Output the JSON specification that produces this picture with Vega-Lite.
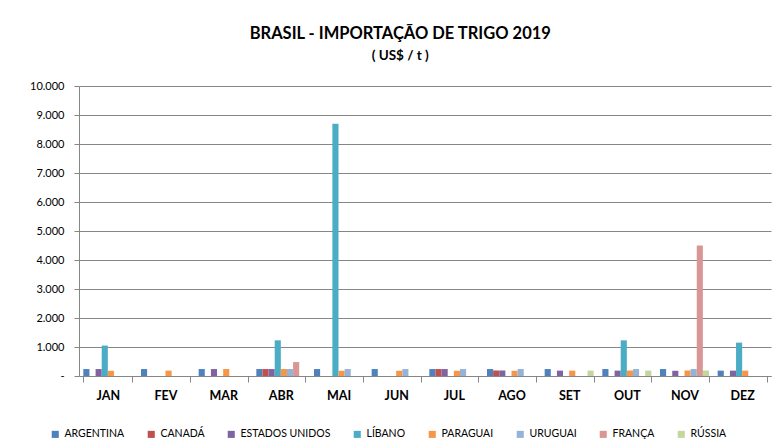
{
  "$schema": "https://vega.github.io/schema/vega-lite/v6.json",
  "autosize": "none",
  "width": 692,
  "height": 290,
  "padding": {"left": 79, "top": 86, "right": 11, "bottom": 70},
  "background": "white",
  "title": {
    "text": "BRASIL - IMPORTAÇÃO DE TRIGO 2019",
    "subtitle": "( US$ / t )",
    "font": "Lato",
    "fontSize": 16.5,
    "fontWeight": "bold",
    "subtitleFont": "Lato",
    "subtitleFontSize": 13.5,
    "subtitleFontWeight": "bold",
    "subtitleColor": "black",
    "subtitlePadding": 6,
    "color": "black",
    "anchor": "middle",
    "frame": "bounds",
    "offset": 18
  },
  "data": {
    "values": [
      {"mes": "JAN", "pais": "ARGENTINA", "valor": 240},
      {"mes": "JAN", "pais": "ESTADOS UNIDOS", "valor": 240},
      {"mes": "JAN", "pais": "LÍBANO", "valor": 1050},
      {"mes": "JAN", "pais": "PARAGUAI", "valor": 180},
      {"mes": "FEV", "pais": "ARGENTINA", "valor": 240},
      {"mes": "FEV", "pais": "PARAGUAI", "valor": 185},
      {"mes": "MAR", "pais": "ARGENTINA", "valor": 240},
      {"mes": "MAR", "pais": "ESTADOS UNIDOS", "valor": 240},
      {"mes": "MAR", "pais": "PARAGUAI", "valor": 240},
      {"mes": "ABR", "pais": "ARGENTINA", "valor": 240},
      {"mes": "ABR", "pais": "CANADÁ", "valor": 240},
      {"mes": "ABR", "pais": "ESTADOS UNIDOS", "valor": 240},
      {"mes": "ABR", "pais": "LÍBANO", "valor": 1230},
      {"mes": "ABR", "pais": "PARAGUAI", "valor": 240},
      {"mes": "ABR", "pais": "URUGUAI", "valor": 240},
      {"mes": "ABR", "pais": "FRANÇA", "valor": 480},
      {"mes": "MAI", "pais": "ARGENTINA", "valor": 240},
      {"mes": "MAI", "pais": "LÍBANO", "valor": 8700},
      {"mes": "MAI", "pais": "PARAGUAI", "valor": 180},
      {"mes": "MAI", "pais": "URUGUAI", "valor": 240},
      {"mes": "JUN", "pais": "ARGENTINA", "valor": 240},
      {"mes": "JUN", "pais": "PARAGUAI", "valor": 180},
      {"mes": "JUN", "pais": "URUGUAI", "valor": 240},
      {"mes": "JUL", "pais": "ARGENTINA", "valor": 240},
      {"mes": "JUL", "pais": "CANADÁ", "valor": 240},
      {"mes": "JUL", "pais": "ESTADOS UNIDOS", "valor": 240},
      {"mes": "JUL", "pais": "PARAGUAI", "valor": 180},
      {"mes": "JUL", "pais": "URUGUAI", "valor": 240},
      {"mes": "AGO", "pais": "ARGENTINA", "valor": 240},
      {"mes": "AGO", "pais": "CANADÁ", "valor": 190},
      {"mes": "AGO", "pais": "ESTADOS UNIDOS", "valor": 190},
      {"mes": "AGO", "pais": "PARAGUAI", "valor": 180},
      {"mes": "AGO", "pais": "URUGUAI", "valor": 240},
      {"mes": "SET", "pais": "ARGENTINA", "valor": 240},
      {"mes": "SET", "pais": "ESTADOS UNIDOS", "valor": 185},
      {"mes": "SET", "pais": "PARAGUAI", "valor": 185},
      {"mes": "SET", "pais": "RÚSSIA", "valor": 185},
      {"mes": "OUT", "pais": "ARGENTINA", "valor": 240},
      {"mes": "OUT", "pais": "ESTADOS UNIDOS", "valor": 185},
      {"mes": "OUT", "pais": "LÍBANO", "valor": 1230},
      {"mes": "OUT", "pais": "PARAGUAI", "valor": 190},
      {"mes": "OUT", "pais": "URUGUAI", "valor": 240},
      {"mes": "OUT", "pais": "RÚSSIA", "valor": 185},
      {"mes": "NOV", "pais": "ARGENTINA", "valor": 240},
      {"mes": "NOV", "pais": "ESTADOS UNIDOS", "valor": 180},
      {"mes": "NOV", "pais": "PARAGUAI", "valor": 190},
      {"mes": "NOV", "pais": "URUGUAI", "valor": 240},
      {"mes": "NOV", "pais": "FRANÇA", "valor": 4500},
      {"mes": "NOV", "pais": "RÚSSIA", "valor": 190},
      {"mes": "DEZ", "pais": "ARGENTINA", "valor": 185},
      {"mes": "DEZ", "pais": "ESTADOS UNIDOS", "valor": 185},
      {"mes": "DEZ", "pais": "LÍBANO", "valor": 1150},
      {"mes": "DEZ", "pais": "PARAGUAI", "valor": 185}
    ]
  },
  "mark": {"type": "bar"},
  "encoding": {
    "x": {
      "field": "mes",
      "type": "nominal",
      "sort": ["JAN", "FEV", "MAR", "ABR", "MAI", "JUN", "JUL", "AGO", "SET", "OUT", "NOV", "DEZ"],
      "scale": {"paddingInner": 0.15, "paddingOuter": 0.075},
      "axis": {
        "title": null,
        "labelAngle": 0,
        "labelFont": "Lato",
        "labelFontSize": 12.5,
        "labelFontWeight": "bold",
        "labelColor": "black",
        "labelPadding": 7,
        "tickBand": "extent",
        "tickSize": 6,
        "tickColor": "#868686",
        "domainColor": "#868686",
        "grid": false
      }
    },
    "xOffset": {
      "field": "pais",
      "type": "nominal",
      "sort": ["ARGENTINA", "CANADÁ", "ESTADOS UNIDOS", "LÍBANO", "PARAGUAI", "URUGUAI", "FRANÇA", "RÚSSIA"],
      "scale": {"domain": ["ARGENTINA", "CANADÁ", "ESTADOS UNIDOS", "LÍBANO", "PARAGUAI", "URUGUAI", "FRANÇA", "RÚSSIA"], "paddingInner": 0, "paddingOuter": 0}
    },
    "y": {
      "field": "valor",
      "type": "quantitative",
      "scale": {"domain": [0, 10000]},
      "axis": {
        "title": null,
        "values": [0, 1000, 2000, 3000, 4000, 5000, 6000, 7000, 8000, 9000, 10000],
        "labelExpr": "datum.value == 0 ? '-' : replace(format(datum.value, ','), ',', '.')",
        "labelFont": "Lato",
        "labelFontSize": 11,
        "labelColor": "black",
        "labelPadding": 10,
        "tickSize": 5,
        "tickColor": "#868686",
        "domainColor": "#868686",
        "gridColor": "#868686",
        "gridWidth": 1
      }
    },
    "color": {
      "field": "pais",
      "type": "nominal",
      "scale": {
        "domain": ["ARGENTINA", "CANADÁ", "ESTADOS UNIDOS", "LÍBANO", "PARAGUAI", "URUGUAI", "FRANÇA", "RÚSSIA"],
        "range": ["#4F81BD", "#C0504D", "#8064A2", "#4BACC6", "#F79646", "#95B3D7", "#D99694", "#C3D69B"]
      },
      "legend": {
        "title": null,
        "orient": "none",
        "direction": "horizontal",
        "legendX": -29,
        "legendY": 343,
        "symbolType": "square",
        "symbolSize": 50,
        "symbolStrokeWidth": 0,
        "labelFont": "Lato",
        "labelFontSize": 10.5,
        "labelColor": "black",
        "columnPadding": 21,
        "labelOffset": 4
      }
    }
  },
  "config": {
    "view": {"stroke": null}
  }
}
